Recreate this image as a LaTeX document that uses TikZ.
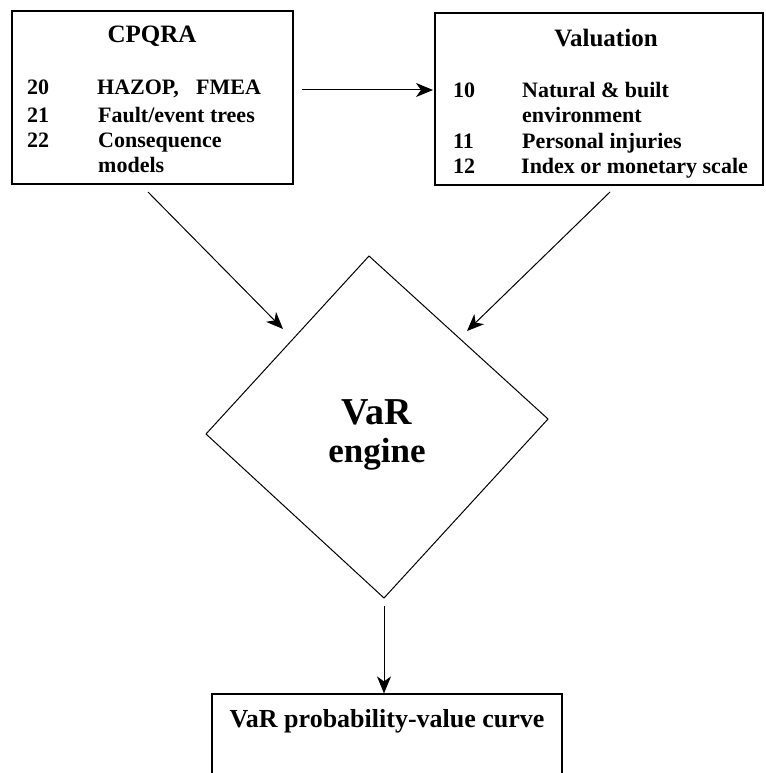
\documentclass[tikz,border=0pt]{standalone}
\usepackage{fontspec}
\setmainfont{Liberation Serif}
\usetikzlibrary{arrows.meta}
\begin{document}
\begin{tikzpicture}[x=1pt,y=-1pt,
  box/.style={draw,line width=1.2pt,rectangle,inner sep=0pt},
  conn/.style={line width=1pt,-{Stealth[length=17pt,width=14pt,inset=5pt]}},
  item/.style={anchor=base west,inner sep=0pt,font=\fontsize{22}{24}\selectfont\bfseries},
  ttl/.style={anchor=base,inner sep=0pt,font=\fontsize{25}{28}\selectfont\bfseries}]
\useasboundingbox (0,0) rectangle (765,773);
\clip (0,0) rectangle (765,773);
% boxes
\node[box,minimum width=281pt,minimum height=173pt] (cp) at (152.5,97.5) {};
\node[box,minimum width=328pt,minimum height=172pt] (val) at (599,99) {};
\node[box,minimum width=350pt,minimum height=150pt] (cur) at (387,769) {};
% diamond
\coordinate (dt) at (369,256);
\coordinate (dr) at (548,419);
\coordinate (db) at (384,598);
\coordinate (dl) at (206,434);
\draw[line width=1pt] (dt) -- (dr) -- (db) -- (dl) -- cycle;
% texts left
\node[ttl] (t1) at (152,43) {CPQRA};
\node[item] (a0) at (27,95) {20};
\node[item] (a1) at (97,95) {HAZOP,};
\node[item] (a2) at (196,95) {FMEA};
\node[item] (b0) at (27,122) {21};
\node[item] (b1) at (98,122) {Fault/event trees};
\node[item] (c0) at (27,147) {22};
\node[item] (c1) at (98,147) {Consequence};
\node[item] (c2) at (98,172) {models};
% texts right
\node[ttl] (t2) at (606,47) {Valuation};
\node[item] (d0) at (453,98) {10};
\node[item] (d1) at (522,98) {Natural \& built};
\node[item] (d2) at (522,123) {environment};
\node[item] (e0) at (453,148) {11};
\node[item] (e1) at (522,148) {Personal injuries};
\node[item] (f0) at (453,173) {12};
\node[item] (f1) at (521,173) {Index or monetary scale};
% diamond text
\node[anchor=base,inner sep=0pt,font=\fontsize{38}{40}\selectfont\bfseries] (v1) at (377,424) {VaR};
\node[anchor=base,inner sep=0pt,font=\fontsize{35}{40}\selectfont\bfseries] (v2) at (377,462) {engine};
% bottom text
\node[anchor=base,inner sep=0pt,font=\fontsize{26}{28}\selectfont\bfseries] (bt) at (387,727) {VaR probability-value curve};
% connectors
\coordinate (s1) at (302,90);
\coordinate (e1c) at (433,90);
\draw[conn] (s1) -- (e1c);
\coordinate (s2) at (148,192);
\coordinate (e2c) at (283,329);
\draw[conn] (s2) -- (e2c);
\coordinate (s3) at (610,192);
\coordinate (e3c) at (467,331);
\draw[conn] (s3) -- (e3c);
\coordinate (s4) at (384,606);
\draw[conn] (s4) -- (cur.north -| s4);
\end{tikzpicture}
\end{document}
